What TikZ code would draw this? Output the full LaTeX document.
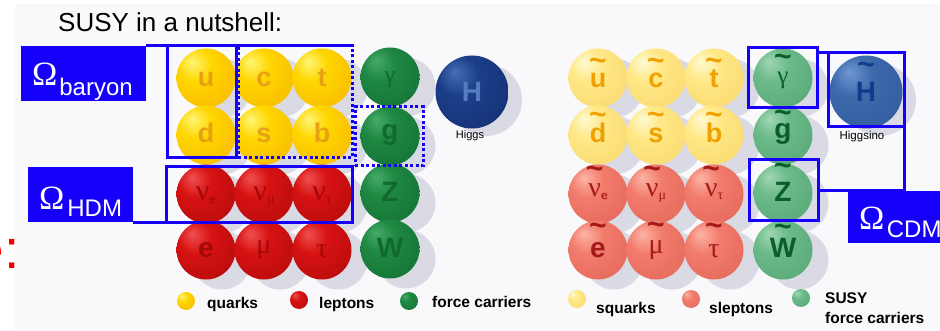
\documentclass[tikz,border=0pt]{standalone}
\usepackage{fontspec}
\setmainfont{Liberation Sans}
\newfontfamily\grk{Liberation Serif}
\usetikzlibrary{calc}
\definecolor{omblue}{RGB}{22,0,250}
\definecolor{shad}{RGB}{218,218,228}
\definecolor{slidebg}{RGB}{249,249,251}
\definecolor{redtxt}{RGB}{240,0,0}
% ball colours: highlight / main / edge
\definecolor{yA}{RGB}{255,246,120}\definecolor{yB}{RGB}{255,214,0}\definecolor{yC}{RGB}{240,158,0}
\definecolor{rA}{RGB}{240,80,80}\definecolor{rB}{RGB}{215,18,18}\definecolor{rC}{RGB}{150,6,6}
\definecolor{gA}{RGB}{70,170,105}\definecolor{gB}{RGB}{30,136,66}\definecolor{gC}{RGB}{12,92,42}
\definecolor{hA}{RGB}{70,110,180}\definecolor{hB}{RGB}{28,62,138}\definecolor{hC}{RGB}{12,36,92}
\definecolor{pyA}{RGB}{255,250,210}\definecolor{pyB}{RGB}{255,232,135}\definecolor{pyC}{RGB}{245,202,85}
\definecolor{sA}{RGB}{252,180,165}\definecolor{sB}{RGB}{242,124,108}\definecolor{sC}{RGB}{215,86,72}
\definecolor{pgA}{RGB}{160,215,180}\definecolor{pgB}{RGB}{108,186,138}\definecolor{pgC}{RGB}{66,150,102}
\definecolor{phA}{RGB}{110,150,210}\definecolor{phB}{RGB}{62,106,172}\definecolor{phC}{RGB}{36,76,140}
% letter colours
\definecolor{qlet}{RGB}{232,160,20}
\definecolor{llet}{RGB}{165,8,8}
\definecolor{glet}{RGB}{18,105,45}
\definecolor{hlet}{RGB}{85,125,190}
\definecolor{sqlet}{RGB}{240,160,0}
\definecolor{sllet}{RGB}{165,25,25}
\definecolor{sglet}{RGB}{10,95,40}
\definecolor{shlet}{RGB}{15,60,140}
\newcommand\mkshade[4]{\pgfdeclareradialshading{#1}{\pgfpoint{-12bp}{14bp}}{color(0bp)=(#2); color(14bp)=(#3); color(34bp)=(#3!60!#4); color(50bp)=(#4); color(66bp)=(#4!85!black)}}
\mkshade{ysh}{yA}{yB}{yC}
\mkshade{rsh}{rA}{rB}{rC}
\mkshade{gsh}{gA}{gB}{gC}
\mkshade{hsh}{hA}{hB}{hC}
\mkshade{pysh}{pyA}{pyB}{pyC}
\mkshade{ssh}{sA}{sB}{sC}
\mkshade{pgsh}{pgA}{pgB}{pgC}
\mkshade{phsh}{phA}{phB}{phC}
\newcommand\bfl[1]{\fontsize{#1}{#1}\selectfont\bfseries}
\newcommand\gkl[1]{\grk\fontsize{#1}{#1}\selectfont}
% letter with a tilde raised #1 above its baseline
\newcommand\tildeon[2]{{\setbox0\hbox{#2}\rlap{\hbox to \wd0{\hss\raisebox{#1}{\normalfont\bfl{30}\textasciitilde}\hss}}\box0}}
\newcommand\mkball[8]{%
  \node[ballsty, shading=#4] (#1) at (#2,#3) {};
  \node[lt, text=#5, font=#6] (#1t) at ($(#1.center)+(0,#7)$) {#8};}
\begin{document}
\begin{tikzpicture}[x=1pt,y=-1pt,
  ballsty/.style={circle, inner sep=0pt, outer sep=0pt, minimum size=59pt},
  lt/.style={anchor=base, inner sep=0pt},
  frame/.style={draw=omblue, line width=3pt, rectangle, inner sep=0pt, outer sep=0pt},
  dotframe/.style={frame, dash pattern=on 3pt off 2.5pt},
  frameline/.style={draw=omblue, line width=3pt},
  omfill/.style={fill=omblue, rectangle, inner sep=0pt, outer sep=0pt},
  omtxt/.style={anchor=base west, inner sep=0pt, text=white, font=\gkl{34}},
  omsub/.style={anchor=base west, inner sep=0pt, text=white, font=\fontsize{24}{24}\selectfont},
  legball/.style={circle, inner sep=0pt, outer sep=0pt, minimum size=18pt},
  legtxt/.style={anchor=base west, inner sep=0pt, font=\bfl{15.5}},
  smalltxt/.style={anchor=base, inner sep=0pt, font=\fontsize{11}{11}\selectfont}]
\useasboundingbox (0,0) rectangle (940,331);
\fill[white] (0,0) rectangle (940,331);
\fill[slidebg] (15,4) rectangle (940,331);
\node[anchor=base west, inner sep=0pt, font=\fontsize{26}{26}\selectfont] (title) at (58,32) {SUSY in a nutshell:};
\node[anchor=base west, inner sep=0pt, text=redtxt, font=\fontsize{55}{55}\selectfont] (cut) at (-26.6,269) {e:};
% shadows
\foreach \x/\y in {206/78,264/78,322/78,206/135,264/135,322/135,206/194,264/194,322/194,206/250,264/250,322/250,390/77,390/136,390/193,390/249,598/78,656/78,714/78,598/135,656/135,714/135,598/194,656/194,714/194,598/250,656/250,714/250,783/78,783/135,783/193,783/250}
  \fill[shad] (\x+16,\y+10) circle (29.5pt);
\fill[shad] (486,100) circle (36pt);
\fill[shad] (880,100) circle (36pt);
% ---- SM particles ----
\mkball{u}{206}{78}{ysh}{qlet}{\bfl{27}}{9}{u}
\mkball{c}{264}{78}{ysh}{qlet}{\bfl{27}}{9}{c}
\mkball{t}{322}{78}{ysh}{qlet}{\bfl{27}}{9}{t}
\mkball{d}{206}{135}{ysh}{qlet}{\bfl{27}}{8}{d}
\mkball{s}{264}{135}{ysh}{qlet}{\bfl{27}}{8}{s}
\mkball{b}{322}{135}{ysh}{qlet}{\bfl{27}}{8}{b}
\mkball{ne}{206}{194}{rsh}{llet}{\gkl{30}}{7}{ν\raisebox{-3pt}{\fontsize{13}{13}\selectfont\sffamily\bfseries e}}
\mkball{nm}{264}{194}{rsh}{llet}{\gkl{30}}{7}{ν\raisebox{-3pt}{\fontsize{14}{14}\selectfont μ}}
\mkball{nt}{322}{194}{rsh}{llet}{\gkl{30}}{7}{ν\raisebox{-3pt}{\fontsize{14}{14}\selectfont τ}}
\mkball{e}{206}{250}{rsh}{llet}{\bfl{28}}{8}{e}
\mkball{mu}{264}{250}{rsh}{llet}{\gkl{28}}{4}{μ}
\mkball{tau}{322}{250}{rsh}{llet}{\gkl{28}}{8}{τ}
\mkball{gam}{390}{77}{gsh}{glet}{\gkl{24}}{6}{γ}
\mkball{glu}{390}{136}{gsh}{glet}{\bfl{28}}{4}{g}
\mkball{Z}{390}{193}{gsh}{glet}{\bfl{28}}{9}{Z}
\mkball{W}{390}{249}{gsh}{glet}{\bfl{28}}{9}{W}
\node[ballsty, minimum size=73pt, shading=hsh] (H) at (472,92) {};
\node[lt, text=hlet, font=\bfl{28}] (Ht) at ($(H.center)+(0,10)$) {H};
\node[smalltxt] (Hlab) at (470,139) {Higgs};
% ---- SUSY particles ----
\mkball{su}{598}{78}{pysh}{sqlet}{\bfl{27}}{10}{\tildeon{17.9pt}{u}}
\mkball{sc}{656}{78}{pysh}{sqlet}{\bfl{27}}{10}{\tildeon{17.9pt}{c}}
\mkball{st}{714}{78}{pysh}{sqlet}{\bfl{27}}{10}{\tildeon{17.9pt}{t}}
\mkball{sd}{598}{135}{pysh}{sqlet}{\bfl{27}}{8}{\tildeon{18.9pt}{d}}
\mkball{ss}{656}{135}{pysh}{sqlet}{\bfl{27}}{8}{\tildeon{18.9pt}{s}}
\mkball{sb}{714}{135}{pysh}{sqlet}{\bfl{27}}{8}{\tildeon{18.9pt}{b}}
\mkball{sne}{598}{194}{ssh}{sllet}{\gkl{28}}{3}{\tildeon{18.4pt}{ν}\raisebox{-3pt}{\fontsize{13}{13}\selectfont\sffamily\bfseries e}}
\mkball{snm}{656}{194}{ssh}{sllet}{\gkl{28}}{3}{\tildeon{18.4pt}{ν}\raisebox{-3pt}{\fontsize{14}{14}\selectfont μ}}
\mkball{snt}{714}{194}{ssh}{sllet}{\gkl{28}}{3}{\tildeon{18.4pt}{ν}\raisebox{-3pt}{\fontsize{14}{14}\selectfont τ}}
\mkball{se}{598}{250}{ssh}{sllet}{\bfl{28}}{8}{\tildeon{22.9pt}{e}}
\mkball{smu}{656}{250}{ssh}{sllet}{\gkl{28}}{4}{\tildeon{19.9pt}{μ}}
\mkball{stau}{714}{250}{ssh}{sllet}{\gkl{28}}{8}{\tildeon{22.9pt}{τ}}
\mkball{sgam}{783}{78}{pgsh}{sglet}{\gkl{25}}{6}{\tildeon{17.4pt}{γ}}
\mkball{sglu}{783}{135}{pgsh}{sglet}{\bfl{28}}{4}{\tildeon{16.4pt}{g}}
\mkball{sZ}{783}{193}{pgsh}{sglet}{\bfl{28}}{9}{\tildeon{26.4pt}{Z}}
\mkball{sW}{783}{250}{pgsh}{sglet}{\bfl{28}}{8}{\tildeon{21.9pt}{W}}
\node[ballsty, minimum size=73pt, shading=phsh] (sH) at (866,92) {};
\node[lt, text=shlet, font=\bfl{28}] (sHt) at ($(sH.center)+(0,10)$) {\tildeon{27.4pt}{H}};
\node[smalltxt, font=\fontsize{11.5}{11.5}\selectfont] (sHlab) at (862,140) {Higgsino};
% ---- legend ----
\node[legball, shading=ysh] (lq) at (186,301) {};
\node[legtxt] (lqt) at (207,308) {quarks};
\node[legball, shading=rsh] (ll) at (299,300) {};
\node[legtxt] (llt) at (319,308) {leptons};
\node[legball, shading=gsh] (lf) at (409,301) {};
\node[legtxt] (lft) at (432,307) {force carriers};
\node[legball, shading=pysh] (lsq) at (577,299) {};
\node[legtxt] (lsqt) at (596,313) {squarks};
\node[legball, shading=ssh] (lsl) at (691,299) {};
\node[legtxt] (lslt) at (709,313) {sleptons};
\node[legball, shading=pgsh] (lsf) at (801,298) {};
\node[legtxt] (lsft) at (825,303) {SUSY};
\node[legtxt] (lsft2) at (825,323) {force carriers};
% ---- Omega boxes ----
\node[omfill, minimum width=125pt, minimum height=55pt] (ob) at (83.5,73.5) {};
\node[omtxt] (obO) at (32,86) {Ω};
\node[omsub] (obS) at ($(obO.base east)+(1.5,10)$) {baryon};
\node[frame, minimum width=69pt, minimum height=112pt] (udbox) at (201.5,102) {};
\node[dotframe, minimum width=114pt, minimum height=112pt] (csbox) at (295,102) {};
\draw[frameline] (ob.north east) -- (csbox.north east);
\node[dotframe, minimum width=68pt, minimum height=59pt] (gbox) at (389,136.5) {};
\node[omfill, minimum width=105pt, minimum height=55.5pt] (oh) at (80.5,194.75) {};
\node[omtxt] (ohO) at (39,210) {Ω};
\node[omsub] (ohS) at ($(ohO.base east)+(2.5,7)$) {HDM};
\node[frame, minimum width=186pt, minimum height=55.5pt] (nbox) at (259,194.75) {};
\draw[frameline] (oh.south east) -- (nbox.south west);
\node[frame, minimum width=69pt, minimum height=60pt] (pbox) at (782.5,78) {};
\node[frame, minimum width=76pt, minimum height=74pt] (hbox) at (866,90) {};
\node[frame, minimum width=69pt, minimum height=61pt] (zbox) at (783.5,190.5) {};
\draw[frameline] (pbox.east |- hbox.north) -- (hbox.north west);
\draw[frameline] (hbox.south east) |- (zbox.east);
\node[omfill, minimum width=102pt, minimum height=52pt] (cdm) at (899,217) {};
\node[omtxt] (cdmO) at (859,230) {Ω};
\node[omsub] (cdmS) at ($(cdmO.base east)+(2,8)$) {CDM};
\end{tikzpicture}
\end{document}
